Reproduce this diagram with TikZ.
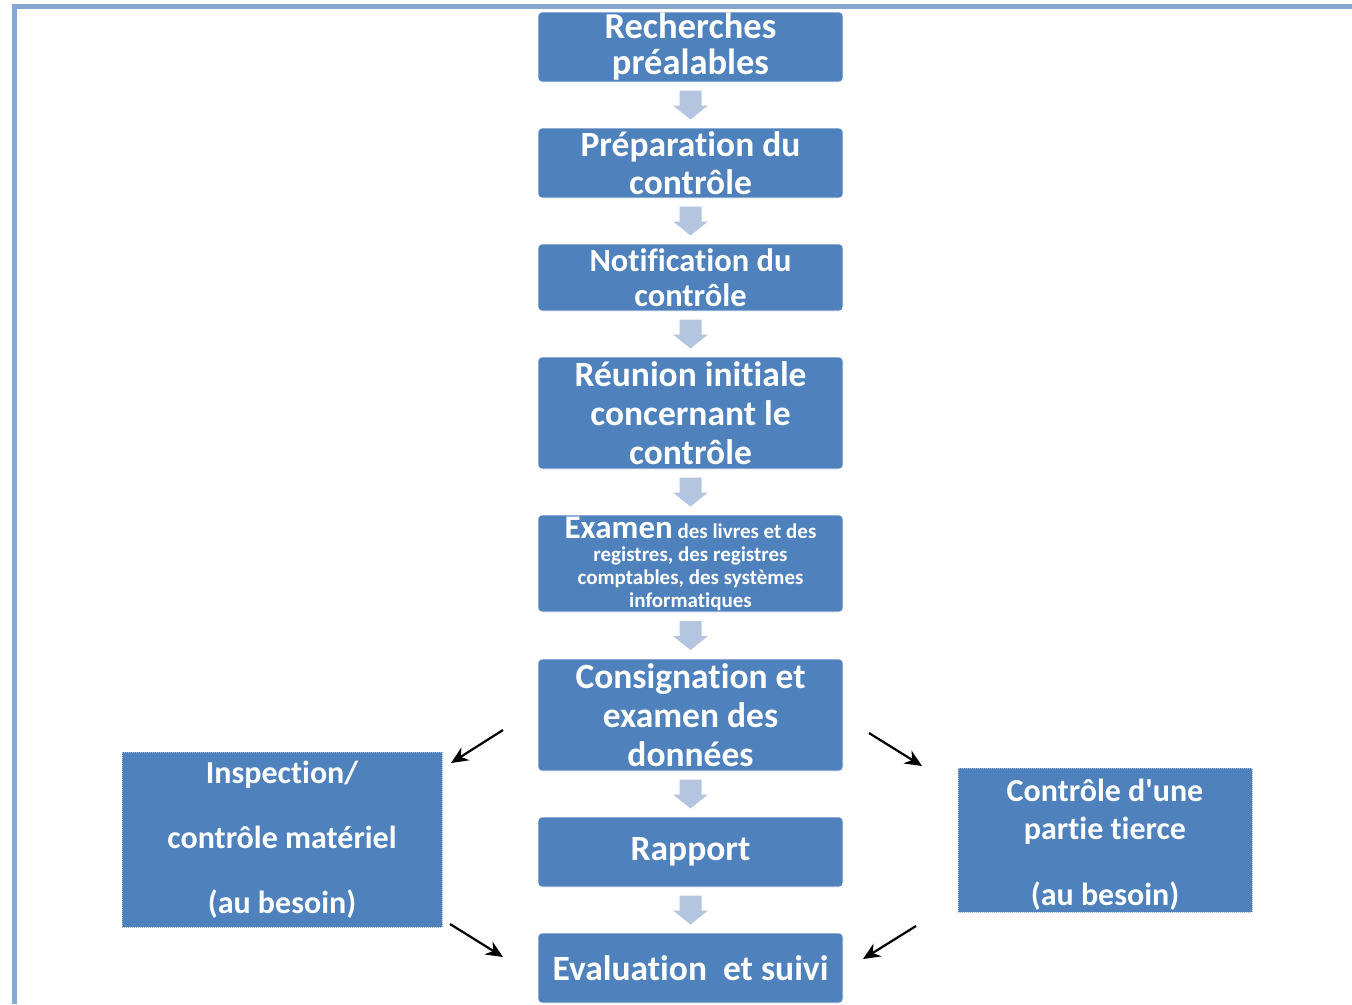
\documentclass[tikz,border=0pt]{standalone}
\usepackage{fontspec}
\setmainfont[Ligatures=CommonOff]{Carlito}
\usetikzlibrary{positioning,calc,arrows.meta}
\definecolor{stepblue}{HTML}{4F81BD}
\definecolor{arrowgray}{HTML}{B4C5DF}
\definecolor{frameblue}{HTML}{86A8D4}

\begin{document}
\begin{tikzpicture}[
    x=1pt, y=-1pt,
    node distance=46pt,
    box/.style={rectangle, fill=stepblue, draw=white, line width=0.6pt, outer sep=0pt, text=white, font=\bfseries\fontsize{35.5}{39}\selectfont, align=center, minimum width=305pt, rounded corners=4pt, inner sep=0pt},
    sidebox/.style={rectangle, fill=stepblue, draw=stepblue!55!white, densely dotted, line width=1pt, text=white, font=\bfseries\fontsize{32}{38}\selectfont, align=center, inner sep=0pt},
    arrow/.style={-{Stealth[length=17pt,width=15pt]}, line width=2.2pt, black}
]
\useasboundingbox (0,0) rectangle (1352,1004);

% Frame
\draw[frameblue, line width=5pt] (14.5,1004) -- (14.5,6.5) -- (1352,6.5);

% Main steps
\node[box, minimum height=70pt, font=\bfseries\fontsize{36.5}{36}\selectfont] (recherches) at (690.5,47) {Recherches\\préalables};
\node[box, minimum height=70pt, below=of recherches, font=\bfseries\fontsize{35.5}{38}\selectfont] (preparation) {Préparation du\\contrôle};
\node[box, minimum height=67pt, below=of preparation, font=\bfseries\fontsize{32.5}{35}\selectfont] (notification) {Notification du\\contrôle};
\node[box, minimum height=112pt, below=of notification] (reunion) {Réunion initiale\\concernant le\\contrôle};
\node[box, minimum height=97pt, below=of reunion, font=\bfseries\fontsize{21}{23}\selectfont] (examen) {{\fontsize{33}{23}\selectfont Examen} des livres et des\\registres, des registres\\comptables, des systèmes\\informatiques};
\node[box, minimum height=112pt, below=47pt of examen] (consignation) {Consignation et\\examen des\\données};
\node[box, minimum height=70pt, below=of consignation] (rapport) {Rapport};
\node[box, minimum height=70pt, below=of rapport] (evaluation) {Evaluation~~et suivi};

% Side steps
\node[sidebox, minimum width=320pt, minimum height=175pt, font=\bfseries\fontsize{32}{65}\selectfont] (inspection) at (282,839.5) {Inspection/\\contrôle matériel\\(au besoin)};
\node[sidebox, minimum width=294pt, minimum height=144pt] (tierce) at (1105,840) {\\[-7pt]Contrôle d\textquotesingle une\\partie tierce\\[28pt](au besoin)};

% Block arrows
\foreach \a/\b in {recherches/preparation, preparation/notification, notification/reunion, reunion/examen, examen/consignation, consignation/rapport, rapport/evaluation}
  \fill[arrowgray] ($(\a.south)!0.5!(\b.north)$) ++(-11,-14.5) -- ++(22,0) -- ++(0,15) -- ++(6.5,0) -- ++(-17.5,14) -- ++(-17.5,-14) -- ++(6.5,0) -- cycle;

% Side arrows
\coordinate (c1) at (503,730);
\coordinate (c2) at (451,763);
\coordinate (c3) at (869,733);
\coordinate (c4) at (922,766);
\coordinate (c5) at (450,924);
\coordinate (c6) at (503,957);
\coordinate (c7) at (916,926);
\coordinate (c8) at (863,959);
\draw[arrow] (c1) -- (c2);
\draw[arrow] (c3) -- (c4);
\draw[arrow] (c5) -- (c6);
\draw[arrow] (c7) -- (c8);

\end{tikzpicture}
\end{document}
